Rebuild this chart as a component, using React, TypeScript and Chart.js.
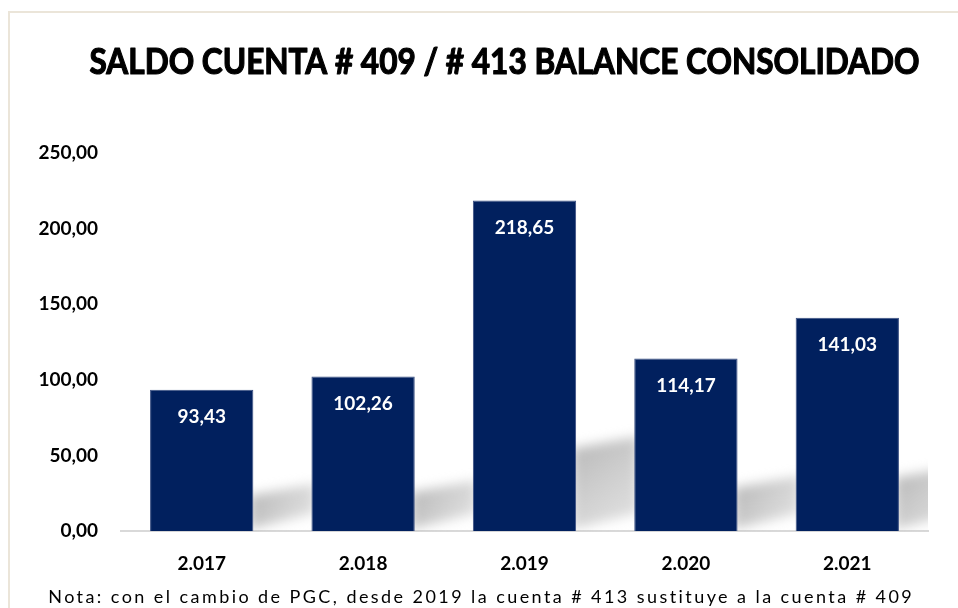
import React, { useEffect, useRef } from "react";
import { Chart, registerables } from "chart.js";

Chart.register(...registerables);

const categories = ["2.017", "2.018", "2.019", "2.020", "2.021"];
const saldo = [93.43, 102.26, 218.65, 114.17, 141.03];
const yMax = 250;
const yStep = 50;
const titleText = "SALDO CUENTA # 409 / # 413 BALANCE CONSOLIDADO";
const noteText = "Nota: con el cambio de PGC, desde 2019 la cuenta # 413 sustituye a la cuenta # 409";

const fmt = (v: number) => v.toFixed(2).replace(".", ",");
const FONT = "Lato, 'Open Sans', sans-serif";

const decorPlugin = {
  id: "decor",
  beforeDraw(chart: any) {
    const ctx = chart.ctx;
    ctx.save();
    ctx.fillStyle = "#ffffff";
    ctx.fillRect(0, 0, chart.width, chart.height);
    ctx.strokeStyle = "#ebe5d9";
    ctx.lineWidth = 2;
    ctx.beginPath();
    ctx.moveTo(9, chart.height);
    ctx.lineTo(9, 12);
    ctx.lineTo(chart.width, 12);
    ctx.stroke();
    ctx.restore();
  },
  beforeDatasetsDraw(chart: any) {
    const ctx = chart.ctx;
    const area = chart.chartArea;
    const meta = chart.getDatasetMeta(0);
    ctx.save();
    ctx.beginPath();
    ctx.rect(area.left, area.top, area.right - area.left, area.bottom - area.top);
    ctx.clip();
    meta.data.forEach((bar: any) => {
      const p = bar.getProps(["x", "y", "base", "width"], true);
      const right = p.x + p.width / 2;
      const h = p.base - p.y;
      const sh = h * 0.25;
      ctx.save();
      ctx.filter = "blur(6px)";
      const g = ctx.createLinearGradient(right, p.base - sh, right + 60, p.base);
      g.addColorStop(0, "rgba(175,175,175,0.85)");
      g.addColorStop(1, "rgba(200,200,200,0.5)");
      ctx.fillStyle = g;
      ctx.beginPath();
      ctx.moveTo(right - 4, p.base - 2);
      ctx.lineTo(right - 4, p.base - sh);
      ctx.lineTo(right + 62, p.base - sh - 12);
      ctx.lineTo(right + 62, p.base - 18);
      ctx.closePath();
      ctx.fill();
      ctx.restore();
    });
    ctx.restore();
  },
  afterDatasetsDraw(chart: any) {
    const ctx = chart.ctx;
    const meta = chart.getDatasetMeta(0);
    ctx.save();
    ctx.fillStyle = "#ffffff";
    ctx.font = "bold 19px " + FONT;
    ctx.textAlign = "center";
    ctx.textBaseline = "middle";
    meta.data.forEach((bar: any, i: number) => {
      const p = bar.getProps(["x", "y"], true);
      ctx.fillText(fmt(saldo[i]), p.x, p.y + 27);
    });
    ctx.restore();
  },
  afterDraw(chart: any) {
    const ctx = chart.ctx;
    const area = chart.chartArea;
    ctx.save();
    ctx.fillStyle = "#000000";
    ctx.strokeStyle = "#000000";
    ctx.lineWidth = 1.2;
    ctx.lineJoin = "round";
    ctx.textAlign = "center";
    ctx.textBaseline = "middle";
    ctx.font = "bold 36px " + FONT;
    const tx = (area.left + area.right) / 2 - 20;
    ctx.fillText(titleText, tx, 62, 830);
    ctx.strokeText(titleText, tx, 62, 830);

    ctx.font = "18px " + FONT;
    const targetW = 864;
    const w0 = ctx.measureText(noteText).width;
    const spacing = Math.max(0, (targetW - w0) / (noteText.length - 1));
    (ctx as any).letterSpacing = spacing.toFixed(2) + "px";
    ctx.fillText(noteText, 480 + spacing / 2, 597);
    ctx.restore();
  },
};

export default function App() {
  const ref = useRef<HTMLCanvasElement | null>(null);

  useEffect(() => {
    if (!ref.current) return;
    const chart = new Chart(ref.current, {
      type: "bar",
      data: {
        labels: categories,
        datasets: [
          {
            label: "Saldo",
            data: saldo,
            backgroundColor: "#01205e",
            borderColor: "#3a4f82",
            borderWidth: 1,
            barPercentage: 0.64,
            categoryPercentage: 1,
          },
        ],
      },
      options: {
        animation: false,
        responsive: true,
        maintainAspectRatio: false,
        layout: { padding: { top: 153, right: 30, bottom: 12, left: 0 } },
        plugins: {
          legend: { display: false },
          title: { display: false },
          tooltip: { enabled: false },
        },
        scales: {
          x: {
            grid: { display: false, drawTicks: false },
            border: { display: true, color: "#d9d9d9", width: 2 },
            ticks: {
              color: "#000000",
              font: { family: FONT, size: 19, weight: "bold" },
              padding: 21,
            },
          },
          y: {
            min: 0,
            max: yMax,
            grid: { display: false, drawTicks: false },
            border: { display: false },
            ticks: {
              stepSize: yStep,
              color: "#000000",
              font: { family: FONT, size: 19, weight: "bold" },
              padding: 23,
              callback: (v: any) => fmt(Number(v)),
            },
            afterFit: (s: any) => {
              s.width = 121;
            },
          },
        },
      },
      plugins: [decorPlugin],
    });
    return () => chart.destroy();
  }, []);

  return (
    <div style={{ position: "fixed", left: 0, top: 0, width: 958, height: 608 }}>
      <canvas ref={ref} />
    </div>
  );
}
